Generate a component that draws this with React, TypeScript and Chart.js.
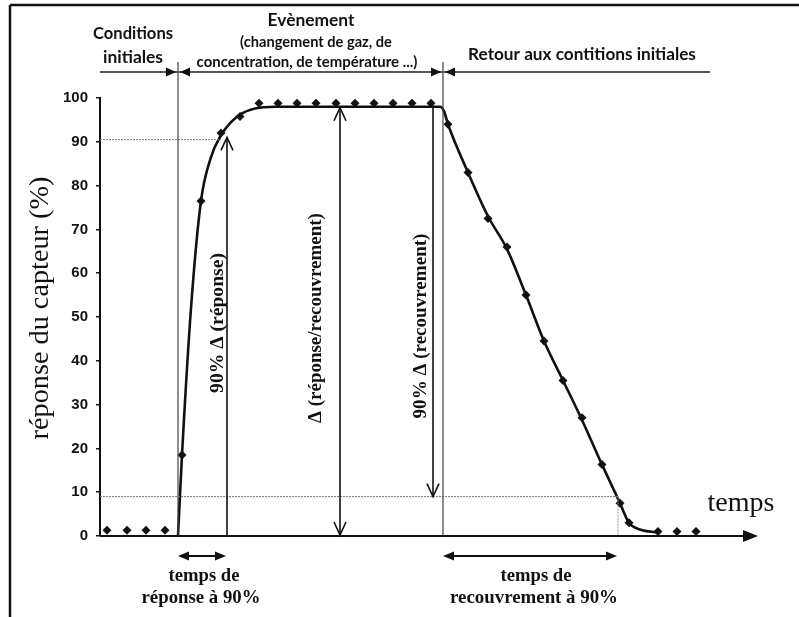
import React, { useEffect, useRef } from "react";
import { Chart, registerables } from "chart.js";

Chart.register(...registerables);

// ---- Data (time in arbitrary units, response in %) ----
const markerTimes = [7, 27, 46, 65, 82, 101, 121, 140, 159, 178, 197, 216, 236, 255, 274, 293, 312, 331, 348, 368, 388, 407, 426, 444, 463, 482, 502, 520, 529, 558, 577, 596];
const markerValues = [1.3, 1.3, 1.3, 1.3, 18.5, 76.5, 92, 95.8, 98.8, 98.8, 98.8, 98.8, 98.8, 98.8, 98.8, 98.8, 98.8, 98.8, 94, 83, 72.5, 66, 55, 44.5, 35.5, 27, 16.3, 7.5, 3, 1, 1, 1];

const curveTimes = [78, 82, 91, 101, 111, 121, 131, 142, 155, 175, 340, 344, 348, 368, 388, 407, 426, 444, 463, 482, 502, 520, 529, 540, 558];
const curveValues = [0, 18.5, 52, 76.5, 86.5, 91.5, 94.5, 96.5, 97.6, 98, 98, 97, 94, 83, 73, 65.5, 55, 44.5, 35.5, 26.5, 16.3, 7.5, 3, 1.5, 0.8];

const yTicks = [0, 10, 20, 30, 40, 50, 60, 70, 80, 90, 100];

// Key instants / levels of the annotation
const responseStartT = 78;
const response90T = 127;
const deltaT = 240;
const recov90T = 333;
const eventEndT = 343;
const recovEndT = 518;
const bracketEndT = 610;
const level90 = 90.5;
const level10 = 9;
const plateau = 98;

const headerTexts = {
  initial: ["Conditions", "initiales"],
  event: ["Evènement", "(changement de gaz, de", "concentration, de température ...)"],
  back: "Retour aux contitions initiales",
};
const bottomTexts = {
  response: ["temps de", "réponse à 90%"],
  recovery: ["temps de", "recouvrement à 90%"],
};

const SERIF = "'Liberation Serif', 'Times New Roman', serif";
const SANS = "'Liberation Sans', Arial, sans-serif";
const CAL = "Lato, 'Open Sans', sans-serif";

function fitText(ctx: CanvasRenderingContext2D, text: string, cx: number, cy: number, w: number, weight: string, family: string, rot = false) {
  ctx.save();
  ctx.font = `${weight} 20px ${family}`;
  const m = ctx.measureText(text).width;
  const size = (20 * w) / m;
  ctx.font = `${weight} ${size}px ${family}`;
  ctx.textAlign = "center";
  ctx.textBaseline = "middle";
  ctx.fillStyle = "#111";
  ctx.translate(cx, cy);
  if (rot) ctx.rotate(-Math.PI / 2);
  ctx.fillText(text, 0, 0);
  ctx.restore();
}

function seg(ctx: CanvasRenderingContext2D, x1: number, y1: number, x2: number, y2: number, w: number, color: string, dash: number[] = []) {
  ctx.save();
  ctx.beginPath();
  ctx.setLineDash(dash);
  ctx.strokeStyle = color;
  ctx.lineWidth = w;
  ctx.moveTo(x1, y1);
  ctx.lineTo(x2, y2);
  ctx.stroke();
  ctx.restore();
}

function vHead(ctx: CanvasRenderingContext2D, x: number, tipY: number, dir: number) {
  // dir = -1 points up, +1 points down
  ctx.save();
  ctx.beginPath();
  ctx.strokeStyle = "#111";
  ctx.lineWidth = 1.6;
  ctx.moveTo(x - 6, tipY - dir * 13);
  ctx.lineTo(x, tipY);
  ctx.lineTo(x + 6, tipY - dir * 13);
  ctx.stroke();
  ctx.restore();
}

function tri(ctx: CanvasRenderingContext2D, tipX: number, y: number, dir: number, len: number, half: number, color = "#111") {
  // dir = +1 points right, -1 points left
  ctx.save();
  ctx.beginPath();
  ctx.fillStyle = color;
  ctx.moveTo(tipX, y);
  ctx.lineTo(tipX - dir * len, y - half);
  ctx.lineTo(tipX - dir * len, y + half);
  ctx.closePath();
  ctx.fill();
  ctx.restore();
}

const annotations = {
  id: "annotations",
  afterDraw(chart: any) {
    const { ctx, chartArea, scales } = chart;
    const x = scales.x;
    const y = scales.y;
    const px = (t: number) => x.getPixelForValue(t);
    const py = (v: number) => y.getPixelForValue(v);
    const left = chartArea.left;
    const bottom = chartArea.bottom;

    // outer frame (top + left)
    seg(ctx, 10, 5, 799, 5, 2.5, "#111");
    seg(ctx, 10, 5, 10, 617, 2.5, "#111");

    // dotted guide lines
    seg(ctx, left, py(level90), px(response90T) - 6, py(level90), 1, "#777", [2, 1]);
    seg(ctx, left, py(level10), px(recovEndT), py(level10), 1, "#777", [2, 1]);
    seg(ctx, px(recovEndT), py(level10), px(recovEndT), bottom, 1, "#999", [2, 1]);

    // phase separators
    const sepTop = 62;
    seg(ctx, px(responseStartT), sepTop, px(responseStartT), bottom, 1.2, "#444");
    seg(ctx, px(eventEndT), sepTop, px(eventEndT), bottom, 1.2, "#444");

    // top bracket line with arrow heads
    const by = 72;
    seg(ctx, left, by, px(bracketEndT), by, 2, "#555");
    for (const t of [responseStartT, eventEndT]) {
      tri(ctx, px(t) - 2, by, 1, 10, 4.5, "#111");
      tri(ctx, px(t) + 2, by, -1, 10, 4.5, "#111");
    }

    // x axis with arrow
    seg(ctx, left, bottom, x.right - 8, bottom, 2, "#111");
    tri(ctx, x.right, bottom, 1, 15, 6, "#111");

    // 90% delta response arrow
    const xr = px(response90T);
    seg(ctx, xr, bottom, xr, py(level90 + 0.5), 1.6, "#111");
    vHead(ctx, xr, py(level90 + 0.5), -1);

    // delta arrow
    const xd = px(deltaT);
    seg(ctx, xd, py(plateau), xd, bottom, 1.6, "#111");
    vHead(ctx, xd, py(plateau) + 1, -1);
    vHead(ctx, xd, bottom - 1, 1);

    // 90% delta recovery arrow
    const xc = px(recov90T);
    seg(ctx, xc, py(plateau), xc, py(level10), 1.6, "#111");
    vHead(ctx, xc, py(level10), 1);

    // bottom double arrows
    const ay = 556;
    seg(ctx, px(responseStartT) + 8, ay, px(response90T - 1) - 8, ay, 2, "#111");
    tri(ctx, px(responseStartT), ay, -1, 11, 4.5);
    tri(ctx, px(response90T - 1), ay, 1, 11, 4.5);
    seg(ctx, px(eventEndT) + 8, ay, px(recovEndT - 1) - 8, ay, 2, "#111");
    tri(ctx, px(eventEndT), ay, -1, 11, 4.5);
    tri(ctx, px(recovEndT - 1), ay, 1, 11, 4.5);

    // header texts
    fitText(ctx, headerTexts.initial[0], 133, 34, 80, "bold", CAL);
    fitText(ctx, headerTexts.initial[1], 133, 57, 60, "bold", CAL);
    fitText(ctx, headerTexts.event[0], 311, 20, 87, "bold", CAL);
    fitText(ctx, headerTexts.event[1], 316, 42, 152, "bold", CAL);
    fitText(ctx, headerTexts.event[2], 307, 62, 221, "bold", CAL);
    fitText(ctx, headerTexts.back, 582, 54, 228, "bold", CAL);

    // rotated labels
    fitText(ctx, "90% Δ (réponse)", 218, 323, 140, "bold", SERIF, true);
    fitText(ctx, "Δ (réponse/recouvrement)", 316, 318, 210, "bold", SERIF, true);
    fitText(ctx, "90% Δ (recouvrement)", 421, 326, 185, "bold", SERIF, true);

    // bottom labels
    fitText(ctx, bottomTexts.response[0], 204, 576, 71, "bold", SERIF);
    fitText(ctx, bottomTexts.response[1], 201, 598, 119, "bold", SERIF);
    fitText(ctx, bottomTexts.recovery[0], 536, 576, 71, "bold", SERIF);
    fitText(ctx, bottomTexts.recovery[1], 534, 598, 168, "bold", SERIF);

    // axis titles
    fitText(ctx, "temps", 741, 504, 67, "normal", SERIF);
    fitText(ctx, "réponse du capteur (%)", 41, 308, 263, "normal", SERIF, true);
  },
};

export default function App() {
  const ref = useRef<HTMLCanvasElement | null>(null);

  useEffect(() => {
    document.body.style.margin = "0";
    const canvas = ref.current;
    if (!canvas) return;
    const chart = new Chart(canvas, {
      type: "scatter",
      data: {
        datasets: [
          {
            label: "courbe",
            data: curveTimes.map((t, i) => ({ x: t, y: curveValues[i] })),
            showLine: true,
            borderColor: "#111",
            borderWidth: 2.6,
            pointRadius: 0,
            cubicInterpolationMode: "monotone",
            clip: false,
          } as any,
          {
            label: "mesures",
            data: markerTimes.map((t, i) => ({ x: t, y: markerValues[i] })),
            showLine: false,
            pointStyle: "rectRot",
            pointRadius: 4.5,
            backgroundColor: "#111",
            borderColor: "#111",
            borderWidth: 0,
            clip: false,
          } as any,
        ],
      },
      options: {
        responsive: false,
        animation: false,
        devicePixelRatio: 1,
        layout: { padding: { left: 10, right: 41, top: 98, bottom: 81 } },
        plugins: { legend: { display: false }, tooltip: { enabled: false } },
        scales: {
          x: { type: "linear", display: false, min: 0, max: 658 },
          y: {
            type: "linear",
            min: 0,
            max: 100,
            afterFit: (s: any) => {
              s.width = 90;
            },
            afterBuildTicks: (s: any) => {
              s.ticks = yTicks.map((v) => ({ value: v }));
            },
            grid: { display: true, drawOnChartArea: false, drawTicks: true, tickLength: 4, color: "#111", lineWidth: 1.5 },
            border: { display: true, color: "#111", width: 2 },
            ticks: {
              padding: 8,
              color: "#111",
              font: { family: SANS, size: 15, weight: "bold" },
            },
          },
        },
      },
      plugins: [annotations],
    });
    return () => chart.destroy();
  }, []);

  return (
    <div style={{ width: 799, height: 617, position: "relative", background: "#fff" }}>
      <canvas ref={ref} width={799} height={617} style={{ width: 799, height: 617, display: "block" }} />
    </div>
  );
}
